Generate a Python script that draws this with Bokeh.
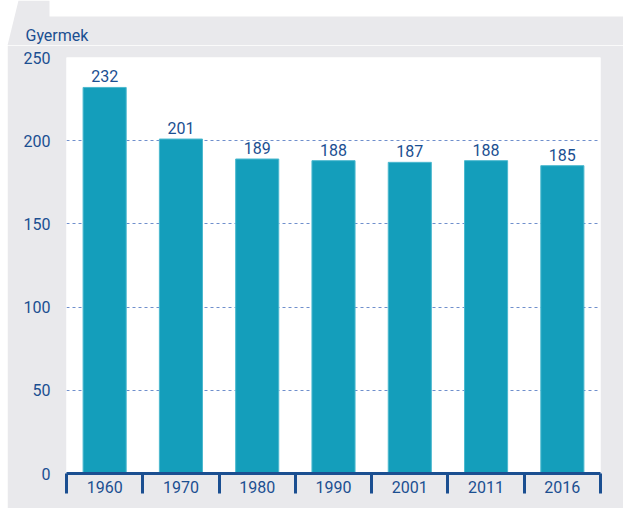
from bokeh.plotting import figure
from bokeh.layouts import column, row
from bokeh.models import (ColumnDataSource, FixedTicker, LabelSet, Range1d, Spacer)
from bokeh.core.properties import value
from bokeh.embed import file_html
from bokeh.resources import INLINE

years = ["1960", "1970", "1980", "1990", "2001", "2011", "2016"]
values = [232, 201, 189, 188, 187, 188, 185]
y_ticks = [0, 50, 100, 150, 200, 250]
y_title = "Gyermek"

BAR = "#149ebb"
TXT = "#1b4f91"
GRAY = "#e9e9ec"
FONT = "Roboto"
FS = "16px"

n = len(years)
xs = [i + 0.5 for i in range(n)]
src = ColumnDataSource(dict(x=xs, top=values, lab=[str(v) for v in values]))

# --- top strip: white title box, gray folded corner, unit caption
TOP_H = 45
top = figure(width=623, height=TOP_H, output_backend="svg", toolbar_location=None,
             x_range=Range1d(0, 623), y_range=Range1d(TOP_H, 0),
             x_axis_location=None, y_axis_location=None,
             min_border=0, min_border_left=0, min_border_right=0,
             min_border_top=0, min_border_bottom=0)
top.outline_line_color = None
top.background_fill_color = "white"
top.border_fill_color = "white"
top.xgrid.visible = False
top.ygrid.visible = False
top.patch([7, 18, 49, 49, 623, 623, 7], [TOP_H, 0, 0, 16, 16, TOP_H, TOP_H],
          fill_color=GRAY, line_color=None)
top.text(x=[25], y=[35], text=[y_title], text_font=value(FONT),
         text_font_size=value(FS), text_color=TXT,
         text_align="left", text_baseline="middle")

# --- main chart
p = figure(width=616, height=508 - TOP_H, output_backend="svg",
           toolbar_location=None,
           x_range=Range1d(0, n), y_range=Range1d(0, 250),
           min_border_left=59, min_border_right=23, min_border_top=12,
           min_border_bottom=35)
p.border_fill_color = GRAY
p.background_fill_color = "white"
p.outline_line_color = None

p.vbar(x="x", top="top", width=0.565, source=src, fill_color=BAR,
       line_color="#4cb9cf", line_width=1)

labels = LabelSet(x="x", y="top", text="lab", source=src, y_offset=5,
                  text_align="center", text_baseline="bottom",
                  text_font=value(FONT), text_font_size=value(FS),
                  text_color=TXT)
p.add_layout(labels)

# x axis: category boundaries as ticks, years centred
xa = p.xaxis[0]
xa.ticker = FixedTicker(ticks=xs, minor_ticks=list(range(n + 1)))
xa.major_label_overrides = {x: y for x, y in zip(xs, years)}
xa.axis_line_color = TXT
xa.axis_line_width = 3
xa.major_tick_line_color = None
xa.major_tick_out = 0
xa.major_tick_in = 0
xa.minor_tick_line_color = TXT
xa.minor_tick_line_width = 3
xa.minor_tick_out = 20
xa.minor_tick_in = 0
xa.major_label_standoff = -13
xa.major_label_text_font = FONT
xa.major_label_text_font_size = FS
xa.major_label_text_color = TXT

ya = p.yaxis[0]
ya.ticker = FixedTicker(ticks=y_ticks)
ya.axis_line_color = None
ya.major_tick_line_color = None
ya.minor_tick_line_color = None
ya.major_tick_out = 0
ya.major_tick_in = 0
ya.major_label_standoff = 16
ya.major_label_text_font = FONT
ya.major_label_text_font_size = FS
ya.major_label_text_color = TXT

p.xgrid.grid_line_color = None
p.ygrid.ticker = FixedTicker(ticks=y_ticks[1:-1])
p.ygrid.grid_line_color = "#6f8fcc"
p.ygrid.grid_line_dash = "3 3"
p.ygrid.grid_line_width = 1

layout = column(top, row(Spacer(width=7, height=508 - TOP_H), p, spacing=0),
                spacing=0)

open("out.html", "w").write(file_html(layout, INLINE))
